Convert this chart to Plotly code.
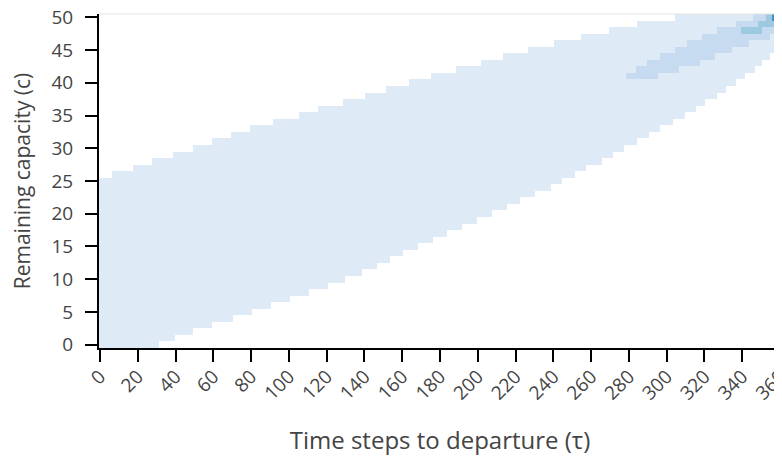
import plotly.graph_objects as go

# axes
tau = list(range(0, 361))          # time steps to departure
capacity = list(range(0, 51))      # remaining capacity

# outer band (level 1): first / last tau that is coloured, per capacity row 0..50
band_first = [0] * 26 + [7, 18, 28, 39, 50, 60, 70, 80, 92, 106, 116, 129, 141, 152,
                         164, 176, 189, 202, 214, 227, 241, 255, 270, 285, 305]
band_last = [31, 39, 49, 59, 70, 80, 90, 100, 110, 120, 129, 138, 146, 153, 160, 168,
             176, 183, 191, 199, 207, 215, 222, 230, 238, 244, 251, 257, 265, 271, 277,
             284, 290, 296, 303, 309, 315, 320, 326, 331, 336, 341, 346, 350, 354, 358,
             360, 360, 360, 360, 360]

# inner region (level 2)
mid_rows = [41, 42, 43, 44, 45, 46, 47, 48, 49, 50]
mid_first = [279, 284, 290, 297, 305, 311, 319, 327, 337, 346]
mid_last = [295, 306, 317, 325, 334, 343, 354, 360, 360, 352]

# darker cells (level 3)
dark_rows = [48, 49, 49, 50]
dark_first = [340, 349, 356, 353]
dark_last = [350, 355, 360, 355]

# darkest cells (level 5)
top_rows = [50]
top_first = [356]
top_last = [360]

z = [[None] * len(tau) for _ in capacity]
for c in capacity:
    for t in range(band_first[c], band_last[c] + 1):
        z[c][t] = 1
for rows, f, l, v in [(mid_rows, mid_first, mid_last, 2),
                      (dark_rows, dark_first, dark_last, 3),
                      (top_rows, top_first, top_last, 5)]:
    for r, a, b in zip(rows, f, l):
        for t in range(a, b + 1):
            z[r][t] = v

fig = go.Figure(go.Heatmap(
    x=tau, y=capacity, z=z, colorscale="Blues", zmin=0, zmax=8,
    showscale=False, hoverongaps=False,
))

axis_common = dict(showline=True, linecolor="black", linewidth=2, ticks="outside",
                   ticklen=12, tickwidth=2, tickcolor="black", showgrid=False,
                   zeroline=False, automargin=False, ticklabeloverflow="allow",
                   tickfont=dict(size=19, color="#444"))

fig.update_layout(
    width=782, height=460,
    margin=dict(l=91, r=9, t=6, b=120),
    paper_bgcolor="white", plot_bgcolor="white",
    font=dict(family="Open Sans", color="#444"),
    xaxis=dict(title=dict(text="Time steps to departure (τ)", standoff=28,
                          font=dict(size=24, color="#444")),
               tickmode="array", tickvals=list(range(0, 361, 20)), tickangle=-45,
               range=[-0.5, 360.5], ticklabelstandoff=-4, **axis_common),
    yaxis=dict(title=dict(text="Remaining capacity (c)", standoff=29,
                          font=dict(size=21, color="#444")),
               tickmode="array", tickvals=list(range(0, 51, 5)), range=[-0.5, 50.5],
               ticklabelstandoff=8, **axis_common),
    shapes=[dict(type="line", xref="paper", yref="paper", x0=0, x1=1, y0=1, y1=1,
                 line=dict(color="#e5e5e5", width=1))],
)

fig.write_html("out.html")
